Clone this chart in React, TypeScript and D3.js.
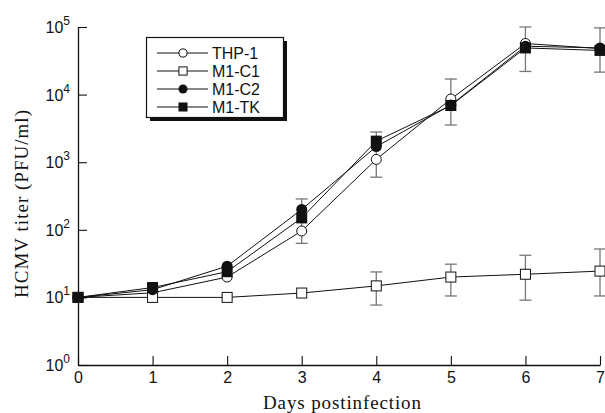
import { useEffect, useRef } from "react";
import * as d3 from "d3";

const days = [0, 1, 2, 3, 4, 5, 6, 7];
const yExponents = [0, 1, 2, 3, 4, 5];

const seriesNames = ["THP-1", "M1-C1", "M1-C2", "M1-TK"];
const thp1 = [10, 11.7, 20, 96, 1100, 8600, 57000, 48000];
const m1c1 = [10, 10, 10, 11.6, 14.8, 20, 22, 24.5];
const m1c2 = [10, 13, 29, 200, 1700, 7000, 52000, 49000];
const m1tk = [10, 14, 24, 150, 2050, 6900, 49000, 45000];

// error bars (low, high) for the growing group and for M1-C1
const groupErrDays = [3, 4, 5, 6, 7];
const groupErrLow = [63, 600, 3550, 22000, 21500];
const groupErrHigh = [286, 2800, 17000, 100000, 97000];
const c1ErrDays = [4, 5, 6, 7];
const c1ErrLow = [7.7, 10.5, 9.1, 10.5];
const c1ErrHigh = [23.8, 31, 42, 52];

const width = 605;
const height = 413;
const marginLeft = 78;
const marginRight = 5;
const marginTop = 27;
const marginBottom = 48;

const App = () => {
  const chartSvg = useRef(null);

  function drawChart() {
    const svg = d3.select(chartSvg.current);
    svg.selectAll("*").remove(); // clear

    const xScale = d3
      .scaleLinear()
      .domain([0, 7])
      .range([marginLeft, width - marginRight]);

    const yScale = d3
      .scaleLog()
      .domain([1, 100000])
      .range([height - marginBottom, marginTop]);

    const sans = "'Liberation Sans', Arial, sans-serif";
    const serif = "'Liberation Serif', 'Times New Roman', serif";

    // axes with inward ticks
    const xAxis = d3
      .axisBottom(xScale)
      .tickValues(days)
      .tickFormat(d3.format("d"))
      .tickSize(-9)
      .tickPadding(7)
      .tickSizeOuter(0);
    const gx = svg
      .append("g")
      .attr("transform", `translate(0, ${height - marginBottom})`)
      .call(xAxis);
    gx.selectAll("text").attr("font-family", sans).attr("font-size", 16).attr("fill", "#111");

    const yAxis = d3
      .axisLeft(yScale)
      .tickValues(yExponents.map((e) => Math.pow(10, e)))
      .tickSize(-9)
      .tickSizeOuter(0)
      .tickFormat(() => "");
    const gy = svg.append("g").attr("transform", `translate(${marginLeft}, 0)`).call(yAxis);

    svg.selectAll(".domain").attr("stroke", "#111").attr("stroke-width", 1.3);
    svg.selectAll(".tick line").attr("stroke", "#111").attr("stroke-width", 1.1);

    // y tick labels as 10^k
    yExponents.forEach((e) => {
      const t = gy
        .append("text")
        .attr("x", -8)
        .attr("y", yScale(Math.pow(10, e)) + 6)
        .attr("text-anchor", "end")
        .attr("font-family", sans)
        .attr("fill", "#111");
      t.append("tspan").attr("font-size", 16).text("10");
      t.append("tspan").attr("font-size", 12).attr("dy", -8).text(String(e));
    });

    // axis titles
    svg
      .append("text")
      .attr("x", 342)
      .attr("y", 409)
      .attr("text-anchor", "middle")
      .attr("font-family", serif)
      .attr("font-size", 19)
      .attr("textLength", 158)
      .attr("fill", "#111")
      .text("Days postinfection");

    svg
      .append("text")
      .attr("transform", `translate(28, 204) rotate(-90)`)
      .attr("text-anchor", "middle")
      .attr("font-family", serif)
      .attr("font-size", 19)
      .attr("textLength", 188)
      .attr("fill", "#111")
      .text("HCMV titer (PFU/ml)");

    const seriesData = [thp1, m1c1, m1c2, m1tk];
    const line = d3
      .line<number>()
      .x((d, i) => xScale(days[i]))
      .y((d) => yScale(d));

    seriesData.forEach((vals) => {
      svg
        .append("path")
        .datum(vals)
        .attr("fill", "none")
        .attr("stroke", "#111")
        .attr("stroke-width", 1)
        .attr("d", line);
    });

    // error bars
    function drawErr(xs, lows, highs) {
      xs.forEach((dx, i) => {
        const x = xScale(dx);
        const g = svg.append("g").attr("stroke", "#777").attr("stroke-width", 1.3);
        g.append("line").attr("x1", x).attr("x2", x).attr("y1", yScale(lows[i])).attr("y2", yScale(highs[i]));
        g.append("line").attr("x1", x - 6).attr("x2", x + 6).attr("y1", yScale(lows[i])).attr("y2", yScale(lows[i]));
        g.append("line").attr("x1", x - 6).attr("x2", x + 6).attr("y1", yScale(highs[i])).attr("y2", yScale(highs[i]));
      });
    }
    drawErr(groupErrDays, groupErrLow, groupErrHigh);
    drawErr(c1ErrDays, c1ErrLow, c1ErrHigh);

    // markers (s = size factor)
    function marker(g, kind, x, y, s = 1) {
      if (kind === 0) {
        g.append("circle").attr("cx", x).attr("cy", y).attr("r", 5 * s).attr("fill", "white").attr("stroke", "#111").attr("stroke-width", 1);
      } else if (kind === 1) {
        g.append("rect").attr("x", x - 5 * s).attr("y", y - 5 * s).attr("width", 10 * s).attr("height", 10 * s).attr("fill", "white").attr("stroke", "#111").attr("stroke-width", 1);
      } else if (kind === 2) {
        g.append("circle").attr("cx", x).attr("cy", y).attr("r", 5.5 * s).attr("fill", "#111");
      } else {
        g.append("rect").attr("x", x - 5.5 * s).attr("y", y - 5.5 * s).attr("width", 11 * s).attr("height", 11 * s).attr("fill", "#111");
      }
    }

    seriesData.forEach((vals, k) => {
      const g = svg.append("g");
      vals.forEach((v, i) => marker(g, k, xScale(days[i]), yScale(v)));
    });

    // legend
    const lg = svg.append("g").attr("transform", "translate(146, 37)");
    lg.append("rect").attr("x", 4).attr("y", 4).attr("width", 137).attr("height", 80).attr("fill", "#111");
    lg.append("rect").attr("x", 0.5).attr("y", 0.5).attr("width", 137).attr("height", 80).attr("fill", "white").attr("stroke", "#111").attr("stroke-width", 1.2);
    seriesNames.forEach((name, k) => {
      const y = 16 + k * 18;
      lg.append("line").attr("x1", 11).attr("x2", 62).attr("y1", y).attr("y2", y).attr("stroke", "#111").attr("stroke-width", 1);
      marker(lg, k, 37, y, 0.82);
      lg.append("text")
        .attr("x", 66)
        .attr("y", y + 6)
        .attr("font-family", sans)
        .attr("font-size", 16)
        .attr("fill", "#111")
        .text(name);
    });
  }

  useEffect(() => {
    drawChart();
  }, []);

  return (
    <svg
      ref={chartSvg}
      width={width}
      height={height}
      style={{ position: "absolute", left: 0, top: 0, background: "white" }}
    ></svg>
  );
};

export default App;
